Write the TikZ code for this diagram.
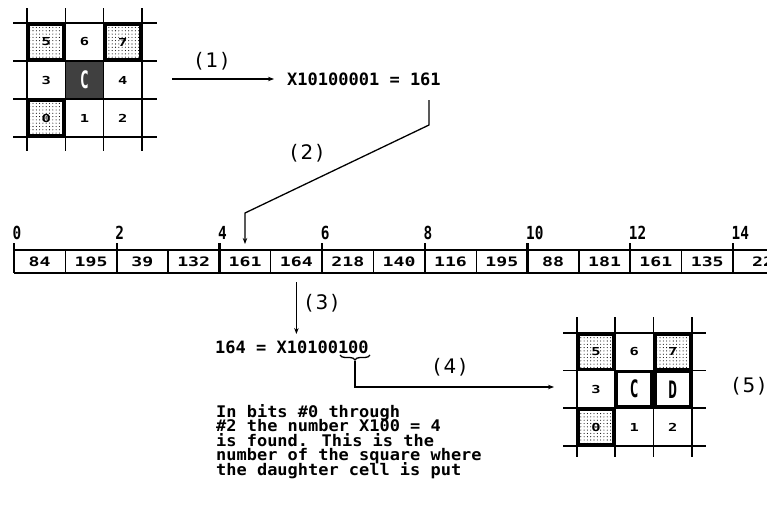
\documentclass[tikz,border=0pt]{standalone}
\usepackage{fontspec}
\usetikzlibrary{arrows.meta,patterns.meta,decorations.pathreplacing}
\newfontfamily\eqfont{DejaVu Sans Mono}
\newfontfamily\explfont[FakeStretch=1.06]{DejaVu Sans Mono}
\newfontfamily\cellfont[FakeStretch=1.4]{DejaVu Sans Mono}
\newfontfamily\tickfont[FakeStretch=0.8]{DejaVu Sans Mono}
\newfontfamily\tallfont[FakeStretch=0.6]{DejaVu Sans Mono}
\newfontfamily\lblfont[LetterSpace=12]{DejaVu Sans}
\newcommand\mytightlines{\lineskiplimit=-100pt\relax\lineskip=0pt\relax}
\tikzset{
  eqtext/.style={font=\eqfont\bfseries\fontsize{17}{17}\selectfont, inner sep=0pt, anchor=west},
  scell/.style={font=\cellfont\bfseries\fontsize{13}{13}\selectfont, inner sep=0pt},
  ticklbl/.style={font=\tickfont\bfseries\fontsize{18}{18}\selectfont, inner sep=0pt, anchor=south west},
  lbl/.style={font=\lblfont\fontsize{20}{20}\selectfont, inner sep=0pt},
  gnum/.style={font=\cellfont\bfseries\fontsize{11}{11}\selectfont, minimum size=35pt, inner sep=0pt},
  shadecell/.style={gnum, draw, line width=2.6pt, pattern={Dots[radius=0.55pt,distance=3.3pt]}},
  boldcell/.style={gnum, draw, line width=2.6pt, fill=white},
  bigletter/.style={font=\tallfont\bfseries\fontsize{24}{24}\selectfont},
  gridline/.style={line width=1.5pt},
  conn/.style={line width=1.3pt},
  arr/.style={conn, -{Stealth[length=6pt,width=4.5pt]}}
}
\begin{document}
\begin{tikzpicture}[x=1pt,y=-1pt]
\fill[white] (0,0) rectangle (767,506);
\clip (0,0) rectangle (767,506);

% ---------- grid 1 ----------
\node[gnum, fill=black!75, minimum size=38pt] (ac) at (84.5,80) {};
\node[bigletter, text=white] at (ac) {C};
\node[shadecell] (a5) at (46.15,42) {5};
\node[gnum] (a6) at (84.5,42) {6};
\node[shadecell] (a7) at (122.85,42) {7};
\node[gnum] (a3) at (46.15,80) {3};
\node[gnum] (a4) at (122.85,80) {4};
\node[shadecell] (a0) at (46.15,118) {0};
\node[gnum] (a1) at (84.5,118) {1};
\node[gnum] (a2) at (122.85,118) {2};
\foreach \x in {27,65.3,103.7,142} \draw[gridline] (\x,8) -- (\x,151);
\foreach \y in {23,61,99,137} \draw[gridline] (13,\y) -- (157,\y);

% ---------- equation 1 ----------
\node[eqtext] (eq1) at (287,79) {X10100001 = 161};
\coordinate (a1s) at (172,79);
\coordinate (a1e) at (274,79);
\draw[arr] (a1s) -- (a1e);
\node[lbl] (l1) at (212,61) {(1)};

% ---------- strip ----------
\draw[conn] (14,250) -- (780,250);
\draw[conn] (14,273) -- (780,273);
\foreach \k in {0,...,7} {
  \draw[line width=2.2pt] ({14+\k*102.7},243) -- ({14+\k*102.7},273);
  \pgfmathtruncatemacro\v{2*\k}
  \node[ticklbl] (t\k) at ({12.5+\k*102.7},240) {\v};
}
\foreach \k in {0,...,6} \draw[conn] ({65.35+\k*102.7},250) -- ({65.35+\k*102.7},273);
\foreach \v [count=\i from 0] in {84,195,39,132,161,164,218,140,116,195,88,181,161,135}
  \node[scell] (c\i) at ({14+(\i+0.5)*51.35},262) {\v};
\node[scell, anchor=west] (c14) at (752,262) {22};

% ---------- arrow 2 ----------
\coordinate (a2s) at (429,100);
\coordinate (a2b) at (429,125);
\coordinate (a2c) at (245,213);
\coordinate (a2e) at (245,244);
\draw[arr] (a2s) -- (a2b) -- (a2c) -- (a2e);
\node[lbl] (l2) at (307,153) {(2)};

% ---------- arrow 3 ----------
\node[eqtext] (eq2) at (215,347) {164 = X10100100};
\coordinate (a3s) at (296.4,282);
\coordinate (a3e) at (296.4,334);
\draw[arr] (a3s) -- (a3e);
\node[lbl] (l3) at (322,303) {(3)};

% ---------- brace and arrow 4 ----------
\coordinate (bl) at (340,355);
\coordinate (br) at (370,355);
\draw[conn, decorate, decoration={brace, amplitude=5pt, mirror}] (bl) -- (br);
\coordinate (a4s) at (355,361);
\coordinate (a4b) at (355,387);
\coordinate (a4e) at (554,387);
\draw[arr] (a4s) -- (a4b) -- (a4e);
\node[lbl] (l4) at (450,367) {(4)};

% ---------- explanation ----------
\node[font=\explfont\bfseries\fontsize{16}{14.5}\selectfont\mytightlines, inner sep=0pt, anchor=north west, align=left] (expl) at (216,404)
 {In bits \#0 through\\\#2 the number X100 = 4\\is found. This is the\\number of the square where\\the daughter cell is put};

% ---------- grid 2 ----------
\node[shadecell] (b5) at (596,351.75) {5};
\node[gnum] (b6) at (634.25,351.75) {6};
\node[shadecell] (b7) at (672.75,351.75) {7};
\node[gnum] (b3) at (596,389.25) {3};
\node[boldcell, bigletter] (bc) at (634.25,389.25) {C};
\node[boldcell, bigletter] (bd) at (672.75,389.25) {D};
\node[shadecell] (b0) at (596,427) {0};
\node[gnum] (b1) at (634.25,427) {1};
\node[gnum] (b2) at (672.75,427) {2};
\foreach \x in {577,615,653.5,692} \draw[gridline] (\x,317) -- (\x,457);
\foreach \y in {333,370.5,408,446} \draw[gridline] (563,\y) -- (706,\y);
\node[lbl] (l5) at (749,386) {(5)};
\end{tikzpicture}
\end{document}
